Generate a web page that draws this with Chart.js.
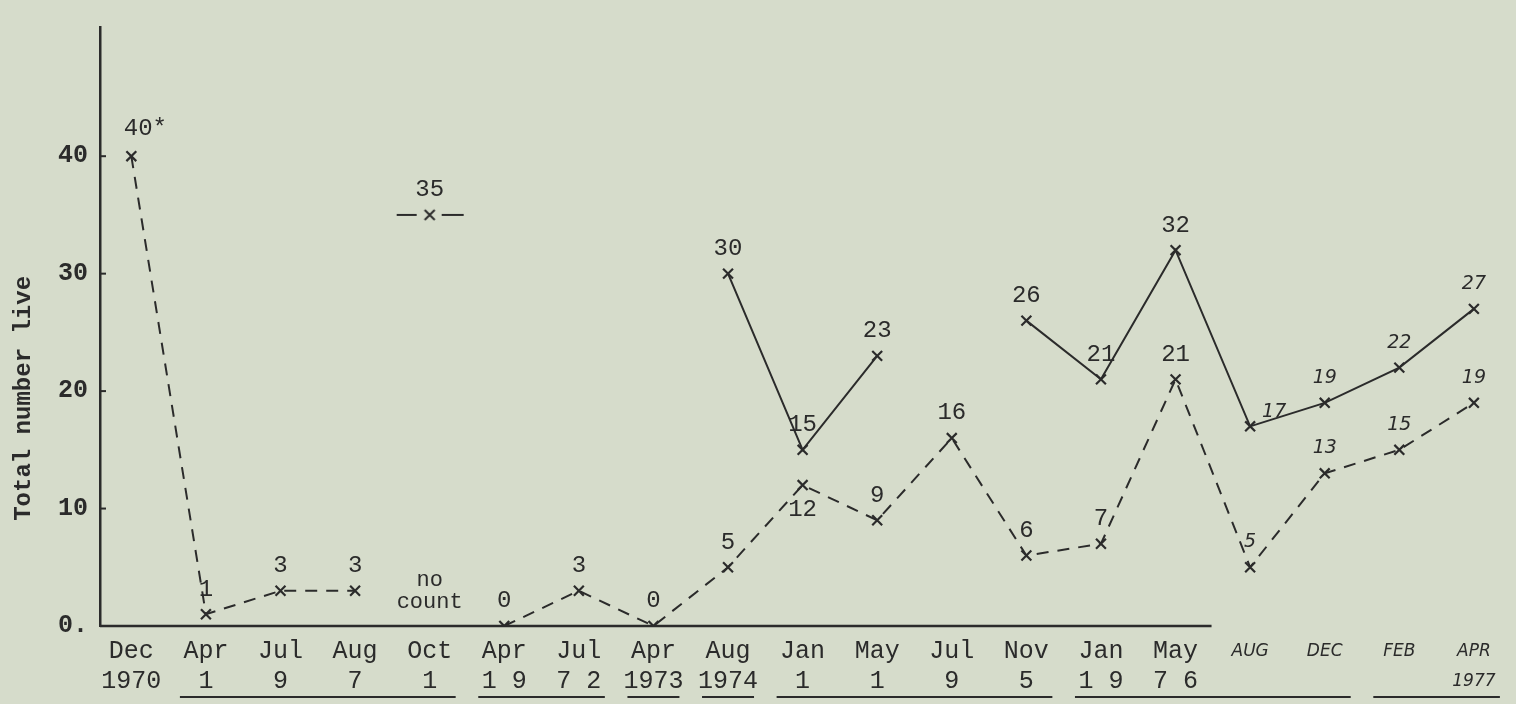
<!DOCTYPE html>
<html>
<head>
<meta charset="utf-8">
<script src="https://cdn.jsdelivr.net/npm/chart.js@4.4.1/dist/chart.umd.min.js"></script>
<style>
    html, body { margin: 0; padding: 0; background: #d6dccb; }
    #wrap { width: 1516px; height: 704px; }
</style>
</head>
<body>
<div id="wrap"><canvas id="liveChart" width="1516" height="704"></canvas></div>
<script>
// sampling dates (month row and spaced-out year row, as typed under the axis)
const months = ["Dec", "Apr", "Jul", "Aug", "Oct", "Apr", "Jul", "Apr", "Aug", "Jan", "May", "Jul", "Nov", "Jan", "May", "AUG", "DEC", "FEB", "APR"];
const years = ["1970", "1", "9", "7", "1", "1 9", "7 2", "1973", "1974", "1", "1", "9", "5", "1 9", "7 6", "", "", "", "1977"];

// dashed series
const lowerCounts = [40, 1, 3, 3, null, 0, 3, 0, 5, 12, 9, 16, 6, 7, 21, 5, 13, 15, 19];
// solid series
const upperCounts = [null, null, null, null, null, null, null, null, 30, 15, 23, null, 26, 21, 32, 17, 19, 22, 27];
// lone Oct 1971 count
const octCounts = [null, null, null, null, 35, null, null, null, null, null, null, null, null, null, null, null, null, null, null];

const yTicks = [0, 10, 20, 30, 40];
const yTickLabels = ["0.", "10", "20", "30", "40"];

// index ranges underlined in the year row
const yearGroups = [[1, 4], [5, 6], [7, 7], [8, 8], [9, 12], [13, 16], [17, 18]];

const HAND_FROM = 15; // handwritten additions start here
const ink = "#2b2b2b";
const typeFont = "'Liberation Mono', 'DejaVu Sans Mono', monospace";
const handFont = "'DejaVu Sans', sans-serif";

function toLabels(values) {
    return values.map(v => (v === null ? null : String(v)));
}

// the x axis is linear over the column index, so pair each value with its column
function toPoints(values) {
    return values.map((v, i) => ({ x: i, y: v }));
}

const lowerLabels = toLabels(lowerCounts);
lowerLabels[0] = "40*";

// "—x—" marker used for the Oct 1971 point
function makeDashCross() {
    const c = document.createElement("canvas");
    c.width = 70;
    c.height = 16;
    const g = c.getContext("2d");
    g.strokeStyle = ink;
    g.lineWidth = 2;
    g.beginPath();
    g.moveTo(2, 8); g.lineTo(22, 8);
    g.moveTo(47, 8); g.lineTo(69, 8);
    g.moveTo(30, 3); g.lineTo(40, 13);
    g.moveTo(40, 3); g.lineTo(30, 13);
    g.stroke();
    return c;
}

const paperPlugin = {
    id: "paper",
    beforeDraw(chart) {
        const ctx = chart.ctx;
        ctx.save();
        ctx.fillStyle = "#d6dccb";
        ctx.fillRect(0, 0, chart.width, chart.height);
        ctx.restore();
    },
    afterDraw(chart) {
        const { ctx, chartArea, scales } = chart;
        const x = scales.x, y = scales.y;
        const base = y.getPixelForValue(0);
        ctx.save();
        ctx.strokeStyle = ink;
        ctx.fillStyle = ink;

        // baseline, ends just past the last typed column
        ctx.lineWidth = 2.5;
        ctx.beginPath();
        ctx.moveTo(chartArea.left, base);
        ctx.lineTo(x.getPixelForValue(HAND_FROM - 1) + 36, base);
        ctx.stroke();

        // small ticks on the inside of the y axis
        ctx.lineWidth = 2;
        yTicks.forEach(t => {
            if (t === 0) return;
            const py = y.getPixelForValue(t);
            ctx.beginPath();
            ctx.moveTo(chartArea.left, py);
            ctx.lineTo(chartArea.left + 6, py);
            ctx.stroke();
        });

        // underlines below the year row
        const uy = chart.height - 7;
        yearGroups.forEach(([a, b]) => {
            ctx.beginPath();
            ctx.moveTo(x.getPixelForValue(a) - 26, uy);
            ctx.lineTo(x.getPixelForValue(b) + 26, uy);
            ctx.stroke();
        });

        // "no count" note at Oct 1971
        ctx.font = "22px " + typeFont;
        ctx.textAlign = "center";
        ctx.textBaseline = "middle";
        const nx = x.getPixelForValue(4);
        ctx.fillText("no", nx, base - 46);
        ctx.fillText("count", nx, base - 24);

        // y axis title
        ctx.translate(24, chartArea.top + chartArea.height * 0.62);
        ctx.rotate(-Math.PI / 2);
        ctx.font = "bold 24px " + typeFont;
        ctx.fillText("Total number live", 0, 0);
        ctx.restore();
    }
};

const pointLabelPlugin = {
    id: "pointLabels",
    afterDatasetsDraw(chart) {
        const ctx = chart.ctx;
        ctx.save();
        ctx.fillStyle = ink;
        ctx.textAlign = "center";
        ctx.textBaseline = "middle";
        chart.data.datasets.forEach((ds, di) => {
            if (!ds.pointLabels) return;
            const meta = chart.getDatasetMeta(di);
            meta.data.forEach((pt, i) => {
                const text = ds.pointLabels[i];
                if (text === null || text === undefined) return;
                const place = (ds.labelPlace && ds.labelPlace[i]) || "above";
                ctx.font = i >= HAND_FROM ? "italic 19px " + handFont : "24px " + typeFont;
                let lx = pt.x, ly = pt.y - 25;
                if (place === "below") ly = pt.y + 25;
                if (place === "right") { lx = pt.x + 24; ly = pt.y - 14; }
                if (place === "aboveRight") { lx = pt.x + 14; ly = pt.y - 28; }
                ctx.fillText(text, lx, ly);
            });
        });
        ctx.restore();
    }
};

const crossPoint = {
    pointStyle: "crossRot",
    pointRadius: 7,
    pointBorderWidth: 2.2,
    pointBorderColor: ink,
    pointBackgroundColor: ink
};

new Chart(document.getElementById("liveChart"), {
    type: "line",
    data: {
        datasets: [
            {
                label: "dashed",
                data: toPoints(lowerCounts),
                borderColor: ink,
                borderWidth: 2,
                borderDash: [12, 9],
                spanGaps: false,
                tension: 0,
                pointLabels: lowerLabels,
                labelPlace: { 0: "aboveRight", 9: "below" },
                ...crossPoint
            },
            {
                label: "solid",
                data: toPoints(upperCounts),
                borderColor: ink,
                borderWidth: 2,
                spanGaps: false,
                tension: 0,
                pointLabels: toLabels(upperCounts),
                labelPlace: { 15: "right" },
                ...crossPoint
            },
            {
                label: "oct",
                data: toPoints(octCounts),
                showLine: false,
                pointStyle: makeDashCross(),
                pointLabels: toLabels(octCounts),
                labelPlace: {}
            }
        ]
    },
    options: {
        responsive: false,
        animation: false,
        layout: { padding: { top: 10, right: 16, left: 0, bottom: 0 } },
        plugins: {
            legend: { display: false },
            tooltip: { enabled: false }
        },
        scales: {
            x: {
                type: "linear",
                min: -0.42,
                max: 18.35,
                afterBuildTicks: scale => {
                    scale.ticks = months.map((m, i) => ({ value: i }));
                },
                afterFit: scale => { scale.height = 78; },
                grid: { display: false },
                border: { display: false },
                ticks: {
                    autoSkip: false,
                    maxRotation: 0,
                    padding: 2,
                    color: ink,
                    font: ctx => ctx.index >= HAND_FROM
                        ? { family: handFont, size: 17, style: "italic", lineHeight: 1.8 }
                        : { family: typeFont, size: 25, lineHeight: 1.2 },
                    callback: value => [months[value], years[value]]
                }
            },
            y: {
                min: 0,
                max: 51,
                afterBuildTicks: scale => {
                    scale.ticks = yTicks.map(v => ({ value: v }));
                },
                afterFit: scale => { scale.width = 100; },
                grid: { display: true, drawOnChartArea: false, drawTicks: false },
                border: { display: true, color: ink, width: 2.5 },
                ticks: {
                    padding: 12,
                    color: ink,
                    font: { family: typeFont, size: 25, weight: "bold" },
                    callback: value => yTickLabels[yTicks.indexOf(value)]
                }
            }
        }
    },
    plugins: [paperPlugin, pointLabelPlugin]
});
</script>
</body>
</html>
